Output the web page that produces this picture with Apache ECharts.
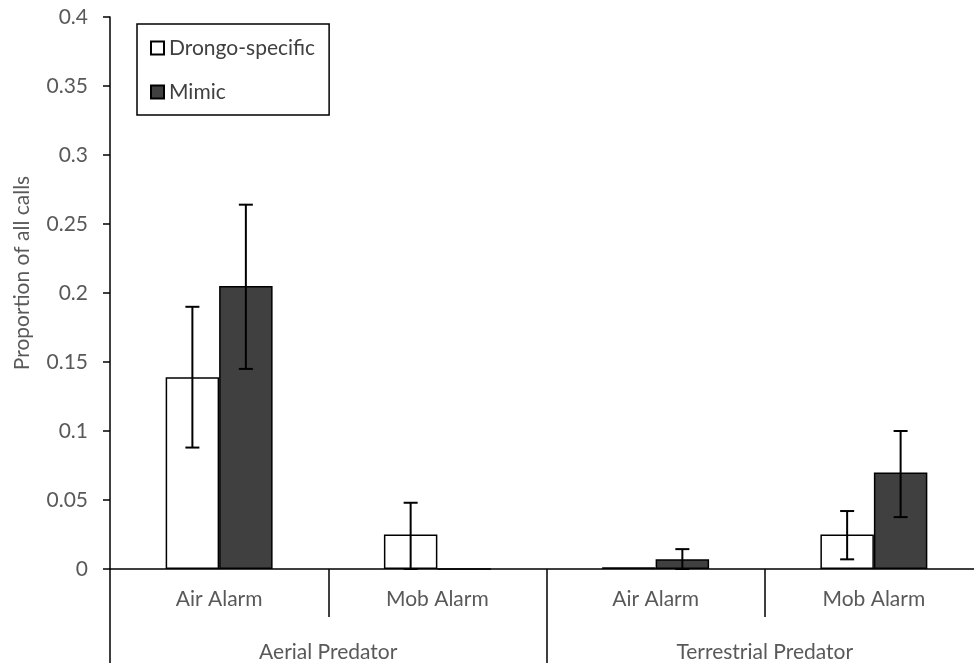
<!DOCTYPE html>
<html>
<head>
<meta charset="utf-8">
<script src="https://cdn.jsdelivr.net/npm/echarts@6/dist/echarts.min.js"></script>
<style>
  html, body { margin: 0; padding: 0; background: #fff; }
  #chart { width: 974px; height: 665px; }
</style>
</head>
<body>
<div id="chart"></div>
<script>
  // call types on the x axis, predator type below them
  const categories = ['Air Alarm', 'Mob Alarm', 'Air Alarm', 'Mob Alarm'];
  const groups = ['Aerial Predator', 'Terrestrial Predator'];

  // mean proportions
  const drongo = [0.139, 0.025, 0.0013, 0.025];
  const mimic = [0.205, 0, 0.0071, 0.070];

  // error bars: [low, high], null = none drawn
  const drongoErr = [[0.088, 0.190], [0, 0.048], null, [0.007, 0.042]];
  const mimicErr = [[0.145, 0.264], null, [0, 0.0144], [0.0376, 0.100]];

  const yTicks = [0, 0.05, 0.1, 0.15, 0.2, 0.25, 0.3, 0.35, 0.4];

  const font = 'Lato, "Open Sans", sans-serif';
  const textColor = '#595959';
  const fontSize = 21;
  const gapRatio = 0.51;

  // custom series that draws whiskers next to the bars
  function errorSeries(name, errs, side) {
    const data = [];
    errs.forEach((e, i) => {
      if (e) data.push([i, e[0], e[1]]);
    });
    return {
      name: name + ' err',
      type: 'custom',
      xAxisIndex: 0,
      z: 10,
      silent: true,
      data: data,
      encode: { x: 0, y: [1, 2] },
      renderItem: function (params, api) {
        const idx = api.value(0);
        const lo = api.coord([idx, api.value(1)]);
        const hi = api.coord([idx, api.value(2)]);
        const band = api.size([1, 0])[0];
        const barW = band * (1 - gapRatio) / 2;
        const x = lo[0] + side * barW / 2;
        const cap = 7;
        const style = { stroke: '#000', lineWidth: 2 };
        return {
          type: 'group',
          children: [
            { type: 'line', shape: { x1: x, y1: lo[1], x2: x, y2: hi[1] }, style: style },
            { type: 'line', shape: { x1: x - cap, y1: hi[1], x2: x + cap, y2: hi[1] }, style: style },
            { type: 'line', shape: { x1: x - cap, y1: lo[1], x2: x + cap, y2: lo[1] }, style: style }
          ]
        };
      }
    };
  }

  const chart = echarts.init(document.getElementById('chart'));
  chart.setOption({
    animation: false,
    backgroundColor: '#fff',
    grid: { left: 110, width: 873, top: 17, bottom: 96, outerBoundsMode: 'none', containLabel: false },
    legend: {
      left: 137,
      top: 24,
      orient: 'vertical',
      data: ['Drongo-specific', 'Mimic'],
      icon: 'rect',
      itemWidth: 13,
      itemHeight: 13,
      itemGap: 22,
      borderColor: '#000',
      borderWidth: 1.5,
      padding: [13, 14, 12, 13],
      textStyle: { fontFamily: font, fontSize: fontSize, lineHeight: 22, color: '#404040' }
    },
    xAxis: [
      {
        type: 'category',
        data: categories,
        axisLine: { lineStyle: { color: '#000', width: 1.5 } },
        axisTick: { show: true, interval: 0, length: 48, lineStyle: { color: '#000', width: 1.5 } },
        axisLabel: { interval: 0, margin: 20, fontFamily: font, fontSize: fontSize, color: textColor }
      },
      {
        type: 'category',
        data: groups,
        position: 'bottom',
        offset: 0,
        axisLine: { show: false },
        axisTick: { show: true, interval: 0, length: 94, lineStyle: { color: '#000', width: 1.5 } },
        axisLabel: { interval: 0, margin: 73, fontFamily: font, fontSize: fontSize, color: textColor }
      }
    ],
    yAxis: {
      type: 'value',
      min: yTicks[0],
      max: yTicks[yTicks.length - 1],
      interval: 0.05,
      name: 'Proportion of all calls',
      nameLocation: 'middle',
      nameGap: 77,
      nameTextStyle: { fontFamily: font, fontSize: fontSize, color: textColor, padding: [0, 0, 0, 40] },
      splitLine: { show: false },
      axisLine: { show: true, lineStyle: { color: '#000', width: 1.5 } },
      axisTick: { show: true, length: 7, lineStyle: { color: '#000', width: 1.5 } },
      axisLabel: { margin: 22, fontFamily: font, fontSize: fontSize, color: textColor }
    },
    series: [
      {
        name: 'Drongo-specific',
        type: 'bar',
        data: drongo,
        barGap: 0,
        barCategoryGap: (gapRatio * 100) + '%',
        itemStyle: { color: '#fff', borderColor: '#000', borderWidth: 1.5 }
      },
      {
        name: 'Mimic',
        type: 'bar',
        data: mimic,
        barGap: 0,
        barCategoryGap: (gapRatio * 100) + '%',
        itemStyle: { color: '#404040', borderColor: '#000', borderWidth: 1.5 }
      },
      errorSeries('Drongo-specific', drongoErr, -1),
      errorSeries('Mimic', mimicErr, 1)
    ]
  });
</script>
</body>
</html>
